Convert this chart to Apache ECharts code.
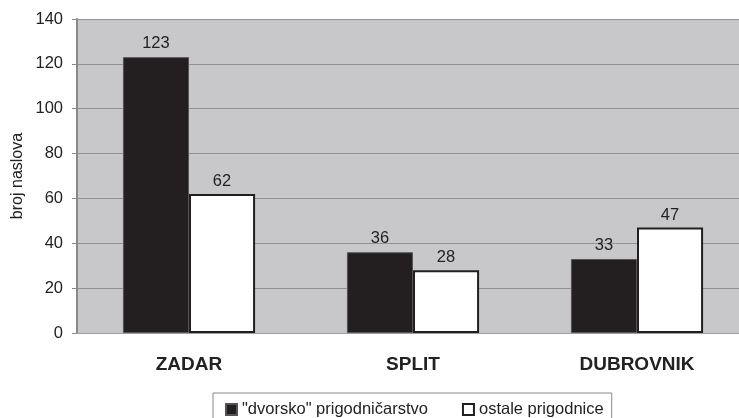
<!DOCTYPE html>
<html>
<head>
<meta charset="utf-8">
<script src="https://cdn.jsdelivr.net/npm/echarts@6/dist/echarts.min.js"></script>
<style>
html,body{margin:0;padding:0;background:#fff;overflow:hidden;width:739px;height:418px;}
#chart{width:750px;height:418px;}
</style>
</head>
<body>
<div id="chart"></div>
<script>
const categories = ['ZADAR', 'SPLIT', 'DUBROVNIK'];
const seriesNames = ['"dvorsko" prigodničarstvo', 'ostale prigodnice'];
const dvorsko = [123, 36, 33];
const ostale = [62, 28, 47];
const yTicks = [0, 20, 40, 60, 80, 100, 120, 140];

const font = '"Liberation Sans", Arial, sans-serif';
const chart = echarts.init(document.getElementById('chart'));
chart.setOption({
  animation: false,
  backgroundColor: '#ffffff',
  grid: {
    left: 77, top: 19, right: 1, bottom: 85,
    containLabel: false, outerBoundsMode: 'none',
    show: true, backgroundColor: '#c8c8ca', borderWidth: 0
  },
  legend: {
    left: 213, top: 393,
    padding: [8, 8, 14, 12],
    borderColor: '#8a8a8a', borderWidth: 1,
    itemWidth: 11, itemHeight: 11, itemGap: 34,
    icon: 'rect',
    textStyle: { fontFamily: font, fontSize: 16.5, color: '#222' },
    data: seriesNames
  },
  xAxis: {
    type: 'category',
    data: categories,
    axisLine: { lineStyle: { color: '#a0a0a0', width: 1 } },
    axisTick: { show: false },
    axisLabel: { fontFamily: font, fontSize: 19, fontWeight: 'bold', color: '#222', margin: 22 }
  },
  yAxis: {
    type: 'value',
    min: yTicks[0], max: yTicks[yTicks.length - 1], interval: 20,
    name: 'broj naslova',
    nameLocation: 'middle',
    nameGap: 51,
    nameMoveOverlap: false,
    nameTextStyle: { fontFamily: font, fontSize: 16, color: '#222' },
    axisLine: { show: true, lineStyle: { color: '#8a8a8a', width: 2 } },
    axisTick: { show: true, length: 5, lineStyle: { color: '#8a8a8a' } },
    axisLabel: { fontFamily: font, fontSize: 16.5, color: '#222', margin: 14 },
    splitLine: { lineStyle: { color: '#939393', width: 1 } }
  },
  series: [
    {
      name: seriesNames[0], type: 'bar', data: dvorsko,
      barGap: '0%', barCategoryGap: '41%',
      itemStyle: { color: '#231f20', borderColor: '#555', borderWidth: 1 },
      label: { show: true, position: 'top', distance: 5, fontFamily: font, fontSize: 16.5, color: '#222' }
    },
    {
      name: seriesNames[1], type: 'bar', data: ostale,
      barGap: '0%', barCategoryGap: '41%',
      itemStyle: { color: '#ffffff', borderColor: '#231f20', borderWidth: 2 },
      label: { show: true, position: 'top', distance: 4, fontFamily: font, fontSize: 16.5, color: '#222' }
    }
  ]
});
</script>
</body>
</html>
